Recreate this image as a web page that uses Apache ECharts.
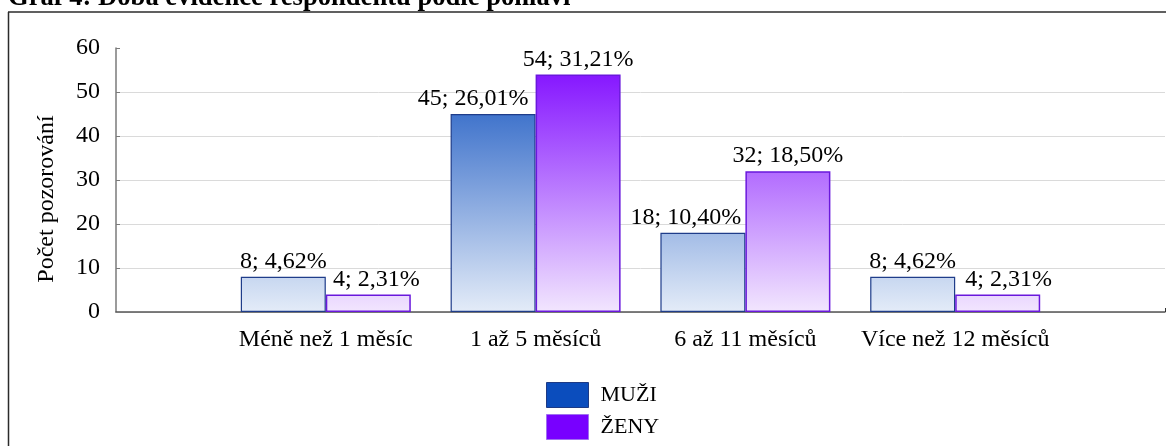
<!DOCTYPE html>
<html>
<head>
<meta charset="utf-8">
<script src="https://cdn.jsdelivr.net/npm/echarts@6/dist/echarts.min.js"></script>
<style>
  html, body { margin: 0; padding: 0; background: #ffffff; }
  #chart { width: 1173px; height: 446px; }
</style>
</head>
<body>
<div id="chart"></div>
<script>
// Registration length by sex
const categories = ['Méně než 1 měsíc', '1 až 5 měsíců', '6 až 11 měsíců', 'Více než 12 měsíců'];
const seriesNames = ['MUŽI', 'ŽENY'];
const muzi = [8, 45, 18, 8];
const zeny = [4, 54, 32, 4];
const yTicks = [0, 10, 20, 30, 40, 50, 60];

// Horizontal nudges for labels that would otherwise collide
const muziLabelShift = [0, -20, -17, 0];
const zenyLabelShift = [8, 0, 0, 11];

const FONT = "'Liberation Serif', 'Times New Roman', serif";
const GRID = { left: 116, right: 8, top: 48, bottom: 134 };
const plotTop = GRID.top;
const plotBottom = 446 - GRID.bottom;

const total = muzi.concat(zeny).reduce((a, b) => a + b, 0);
const pct = v => (v / total * 100).toFixed(2).replace('.', ',') + '%';

// Axis runs one empty slot either side of the four groups
const axisCats = [''].concat(categories, ['']);

function buildData(values, shifts) {
  const out = ['-'];
  values.forEach((v, i) => {
    out.push({ value: v, label: { offset: [shifts[i], 0] } });
  });
  out.push('-');
  return out;
}

function grad(top, bottom) {
  return new echarts.graphic.LinearGradient(0, plotTop, 0, plotBottom,
    [{ offset: 0, color: top }, { offset: 1, color: bottom }], true);
}

const labelCfg = {
  show: true,
  position: 'top',
  distance: 3,
  color: '#000',
  fontFamily: FONT,
  fontSize: 24,
  formatter: p => p.value + '; ' + pct(p.value)
};

const chart = echarts.init(document.getElementById('chart'), null, { renderer: 'canvas' });

chart.setOption({
  animation: false,
  backgroundColor: '#ffffff',
  title: {
    text: 'Graf 4: Doba evidence respondentů podle pohlaví',
    left: 8,
    top: -15.5,
    padding: 0,
    textStyle: { fontFamily: FONT, fontSize: 26.6, fontWeight: 'bold', color: '#000' }
  },
  graphic: [
    { type: 'line', shape: { x1: 8, y1: 12, x2: 1166, y2: 12 }, style: { stroke: '#2b2b2b', lineWidth: 1.5 }, silent: true },
    { type: 'line', shape: { x1: 8.5, y1: 12, x2: 8.5, y2: 446 }, style: { stroke: '#2b2b2b', lineWidth: 1.5 }, silent: true }
  ],
  legend: {
    orient: 'vertical',
    left: 546,
    top: 382,
    itemWidth: 42,
    itemHeight: 25,
    itemGap: 6,
    icon: 'rect',
    padding: 0,
    textStyle: { fontFamily: FONT, fontSize: 22, color: '#000', padding: [0, 0, 0, 7] },
    data: [
      { name: seriesNames[0], itemStyle: { color: '#0b4dbd', borderColor: '#1d3a85', borderWidth: 1 } },
      { name: seriesNames[1], itemStyle: { color: '#7800ff', borderColor: '#a070f0', borderWidth: 1 } }
    ]
  },
  grid: GRID,
  xAxis: {
    type: 'category',
    data: axisCats,
    boundaryGap: false,
    axisLine: { lineStyle: { color: '#555555', width: 1.5 } },
    axisTick: { show: true, inside: true, length: 4, interval: i => i === axisCats.length - 1, lineStyle: { color: '#333' } },
    axisLabel: { color: '#000', fontFamily: FONT, fontSize: 24, margin: 16, interval: 0 },
    splitLine: { show: false }
  },
  yAxis: {
    type: 'value',
    min: yTicks[0],
    max: yTicks[yTicks.length - 1],
    interval: yTicks[1] - yTicks[0],
    name: 'Počet pozorování',
    nameLocation: 'middle',
    nameGap: 57,
    nameTextStyle: { fontFamily: FONT, fontSize: 24, color: '#000', padding: [0, 38, 0, 0] },
    axisLine: { show: true, lineStyle: { color: '#7a7a7a', width: 1.5 } },
    axisTick: { show: true, inside: true, length: 4, lineStyle: { color: '#7a7a7a' } },
    axisLabel: { color: '#000', fontFamily: FONT, fontSize: 24, margin: 16 },
    splitLine: { show: true, showMaxLine: false, lineStyle: { color: '#dadada', width: 1 } }
  },
  series: [
    {
      name: seriesNames[0],
      type: 'bar',
      barWidth: 85,
      barGap: '0%',
      data: buildData(muzi, muziLabelShift),
      itemStyle: { color: grad('#0a4cbd', '#e4ecf8'), borderColor: '#1f3d8a', borderWidth: 1.2 },
      label: labelCfg
    },
    {
      name: seriesNames[1],
      type: 'bar',
      barWidth: 85,
      barGap: '0%',
      data: buildData(zeny, zenyLabelShift),
      itemStyle: { color: grad('#7a00ff', '#f2e6fe'), borderColor: '#6a18dc', borderWidth: 1.5 },
      label: labelCfg
    }
  ]
});
</script>
</body>
</html>
